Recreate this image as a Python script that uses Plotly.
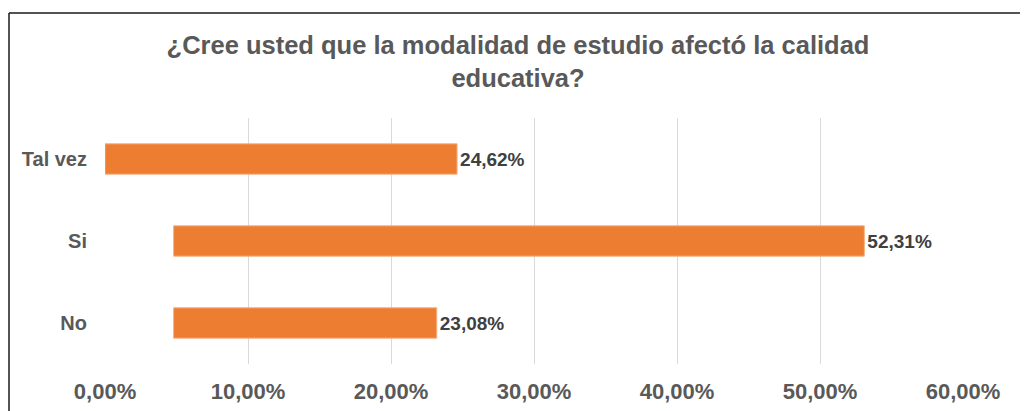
import plotly.graph_objects as go

# values
categories = ["No", "Si", "Tal vez"]
percent = [23.08, 52.31, 24.62]          # printed labels
bar_start = [4.8, 4.8, 0.0]              # where each bar begins on the axis
bar_end = [23.2, 53.1, 24.62]            # where each bar ends on the axis
tick_vals = [0, 10, 20, 30, 40, 50, 60]
tick_text = ["0,00%", "10,00%", "20,00%", "30,00%", "40,00%", "50,00%", "60,00%"]

ORANGE = "#ED7D31"
GRAY = "#595959"
FONT = "Liberation Sans, Arial, sans-serif"

# the page body adds an 8px offset, so the figure is 8px smaller
OFF = 8
W, H = 1028 - OFF, 411 - OFF
L, R, T, B = 105 - OFF, 65, 118 - OFF, 47

labels = [f"{v:.2f}%".replace(".", ",") for v in percent]
lengths = [e - s for s, e in zip(bar_start, bar_end)]

fig = go.Figure()
fig.add_trace(go.Bar(
    y=categories,
    x=lengths,
    base=bar_start,
    orientation="h",
    marker=dict(color=ORANGE, line=dict(color="#F4B183", width=1)),
    text=labels,
    textposition="outside",
    cliponaxis=False,
    textfont=dict(family=FONT, size=19, color="#404040", weight="bold"),
    hoverinfo="skip",
))

# frame line (top and left) like the exported image
pw, ph = W - L - R, H - T - B
fx = (9 - OFF - L) / pw
fy = (H - B - (13 - OFF)) / ph
fig.add_shape(type="line", xref="paper", yref="paper",
              x0=fx, x1=(W - L) / pw, y0=fy, y1=fy,
              line=dict(color="#1a1a1a", width=1.5))
fig.add_shape(type="line", xref="paper", yref="paper",
              x0=fx, x1=fx, y0=fy, y1=-B / ph,
              line=dict(color="#1a1a1a", width=1.5))

fig.update_layout(
    width=W, height=H,
    margin=dict(l=L, r=R, t=T, b=B, autoexpand=False),
    paper_bgcolor="white",
    plot_bgcolor="white",
    showlegend=False,
    bargap=0.63,
    title=dict(
        text="¿Cree usted que la modalidad de estudio afectó la calidad<br>educativa?",
        x=0.5, xanchor="center", y=1 - (54 - OFF) / H, yanchor="middle",
        font=dict(family=FONT, size=25.5, color=GRAY, weight="bold"),
    ),
    xaxis=dict(
        range=[0, 60],
        tickvals=tick_vals,
        ticktext=tick_text,
        showgrid=True, gridcolor="#D9D9D9", gridwidth=1,
        zeroline=False, showline=False, ticks="",
        tickfont=dict(family=FONT, size=22, color=GRAY, weight="bold"),
        ticklabelstandoff=12,
        fixedrange=True,
    ),
    yaxis=dict(
        categoryorder="array", categoryarray=categories,
        showgrid=False, zeroline=False, showline=False, ticks="",
        tickfont=dict(family=FONT, size=20, color=GRAY, weight="bold"),
        ticklabelstandoff=17,
        fixedrange=True,
    ),
)

fig.write_html("out.html")
